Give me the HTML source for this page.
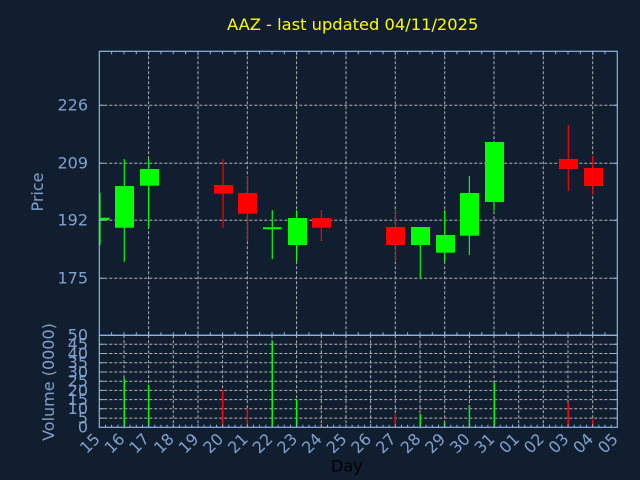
<!DOCTYPE html>
<html><head><meta charset="utf-8"><style>
html,body{margin:0;padding:0;background:#101e2f;}
svg{display:block;}
text{font-family:"DejaVu Sans","Liberation Sans",sans-serif;}
</style></head><body>
<svg width="640" height="480" viewBox="0 0 640 480" xmlns="http://www.w3.org/2000/svg">
<rect x="0" y="0" width="640" height="480" fill="#101e2f"/>
<text x="227" y="30" font-size="16.3" fill="#ffff00">AAZ - last updated 04/11/2025</text>

<!-- price grid -->
<g stroke="#b4b4b4" stroke-width="1" stroke-dasharray="3,2" fill="none">
<line x1="99.3" y1="105.3" x2="617.3" y2="105.3"/>
<line x1="99.3" y1="163.3" x2="617.3" y2="163.3"/>
<line x1="99.3" y1="220.3" x2="617.3" y2="220.3"/>
<line x1="99.3" y1="278.3" x2="617.3" y2="278.3"/>
<line x1="148.6" y1="51.3" x2="148.6" y2="335.3"/>
<line x1="198" y1="51.3" x2="198" y2="335.3"/>
<line x1="247.3" y1="51.3" x2="247.3" y2="335.3"/>
<line x1="296.6" y1="51.3" x2="296.6" y2="335.3"/>
<line x1="346" y1="51.3" x2="346" y2="335.3"/>
<line x1="395.3" y1="51.3" x2="395.3" y2="335.3"/>
<line x1="444.7" y1="51.3" x2="444.7" y2="335.3"/>
<line x1="494" y1="51.3" x2="494" y2="335.3"/>
<line x1="543.3" y1="51.3" x2="543.3" y2="335.3"/>
<line x1="592.7" y1="51.3" x2="592.7" y2="335.3"/>
</g>

<!-- volume grid -->
<g stroke="#b4b4b4" stroke-width="1" stroke-dasharray="3,2" fill="none">
<line x1="99.3" y1="344.3" x2="617.3" y2="344.3"/>
<line x1="99.3" y1="353.5" x2="617.3" y2="353.5"/>
<line x1="99.3" y1="362.7" x2="617.3" y2="362.7"/>
<line x1="99.3" y1="372" x2="617.3" y2="372"/>
<line x1="99.3" y1="381.2" x2="617.3" y2="381.2"/>
<line x1="99.3" y1="390.4" x2="617.3" y2="390.4"/>
<line x1="99.3" y1="399.6" x2="617.3" y2="399.6"/>
<line x1="99.3" y1="408.8" x2="617.3" y2="408.8"/>
<line x1="99.3" y1="418.1" x2="617.3" y2="418.1"/>
<line x1="124" y1="335.3" x2="124" y2="427.3"/>
<line x1="148.6" y1="335.3" x2="148.6" y2="427.3"/>
<line x1="173.3" y1="335.3" x2="173.3" y2="427.3"/>
<line x1="198" y1="335.3" x2="198" y2="427.3"/>
<line x1="222.6" y1="335.3" x2="222.6" y2="427.3"/>
<line x1="247.3" y1="335.3" x2="247.3" y2="427.3"/>
<line x1="272" y1="335.3" x2="272" y2="427.3"/>
<line x1="296.6" y1="335.3" x2="296.6" y2="427.3"/>
<line x1="321.3" y1="335.3" x2="321.3" y2="427.3"/>
<line x1="346" y1="335.3" x2="346" y2="427.3"/>
<line x1="370.6" y1="335.3" x2="370.6" y2="427.3"/>
<line x1="395.3" y1="335.3" x2="395.3" y2="427.3"/>
<line x1="420" y1="335.3" x2="420" y2="427.3"/>
<line x1="444.7" y1="335.3" x2="444.7" y2="427.3"/>
<line x1="469.4" y1="335.3" x2="469.4" y2="427.3"/>
<line x1="494" y1="335.3" x2="494" y2="427.3"/>
<line x1="518.7" y1="335.3" x2="518.7" y2="427.3"/>
<line x1="543.3" y1="335.3" x2="543.3" y2="427.3"/>
<line x1="568" y1="335.3" x2="568" y2="427.3"/>
<line x1="592.7" y1="335.3" x2="592.7" y2="427.3"/>
</g>

<!-- candles -->
<defs><clipPath id="pc"><rect x="99.3" y="51.3" width="518" height="284"/></clipPath></defs>
<g clip-path="url(#pc)">
<g stroke="#00ff00" stroke-width="1.2">
<line x1="100" y1="193" x2="100" y2="245"/>
<line x1="124.3" y1="159" x2="124.3" y2="261.7"/>
<line x1="148.6" y1="159" x2="148.6" y2="227.7"/>
<line x1="272.3" y1="210" x2="272.3" y2="259"/>
<line x1="296.6" y1="210.3" x2="296.6" y2="261.7"/>
<line x1="420.3" y1="245" x2="420.3" y2="278.7"/>
<line x1="444.7" y1="210" x2="444.7" y2="261.7"/>
<line x1="469.4" y1="176" x2="469.4" y2="255"/>
<line x1="494" y1="142" x2="494" y2="210.7"/>
</g>
<g stroke="#ff0000" stroke-width="1.2">
<line x1="223" y1="159" x2="223" y2="227.7"/>
<line x1="247.6" y1="176" x2="247.6" y2="241"/>
<line x1="321.3" y1="210" x2="321.3" y2="241"/>
<line x1="395.6" y1="210" x2="395.6" y2="261.7"/>
<line x1="568.3" y1="125" x2="568.3" y2="191"/>
<line x1="592.7" y1="156" x2="592.7" y2="194"/>
</g>
<g fill="#00ff00">
<rect x="90" y="217.7" width="19.5" height="2.3"/>
<rect x="115" y="186" width="19" height="41.7"/>
<rect x="140" y="169" width="19" height="16.7"/>
<rect x="263" y="227.3" width="18.7" height="2"/>
<rect x="288" y="218" width="19" height="27"/>
<rect x="411" y="227" width="19" height="18"/>
<rect x="436" y="235" width="19" height="17.7"/>
<rect x="460" y="193" width="19" height="42.7"/>
<rect x="485" y="142" width="19" height="60"/>
</g>
<g fill="#ff0000">
<rect x="214" y="185" width="19" height="8.7"/>
<rect x="238" y="193" width="19" height="20.7"/>
<rect x="312" y="218" width="19" height="9.7"/>
<rect x="386" y="227" width="19" height="18"/>
<rect x="559" y="159" width="19" height="10"/>
<rect x="584" y="168" width="19" height="18"/>
</g>
</g>

<!-- volume bars -->
<g stroke-width="1.5">
<line x1="124.3" y1="378.3" x2="124.3" y2="427.3" stroke="#00ff00"/>
<line x1="148.6" y1="385" x2="148.6" y2="427.3" stroke="#00ff00"/>
<line x1="222.6" y1="390" x2="222.6" y2="427.3" stroke="#ff0000"/>
<line x1="247.3" y1="408" x2="247.3" y2="427.3" stroke="#ff0000"/>
<line x1="272.3" y1="341" x2="272.3" y2="427.3" stroke="#00ff00"/>
<line x1="296.6" y1="399" x2="296.6" y2="427.3" stroke="#00ff00"/>
<line x1="321.3" y1="424.3" x2="321.3" y2="427.3" stroke="#ff0000"/>
<line x1="395.3" y1="414.3" x2="395.3" y2="427.3" stroke="#ff0000"/>
<line x1="420.3" y1="414" x2="420.3" y2="427.3" stroke="#00ff00"/>
<line x1="444.5" y1="422.3" x2="444.5" y2="427.3" stroke="#00ff00"/>
<line x1="469.4" y1="405" x2="469.4" y2="427.3" stroke="#00ff00"/>
<line x1="494.3" y1="382.3" x2="494.3" y2="427.3" stroke="#00ff00"/>
<line x1="568.3" y1="402.7" x2="568.3" y2="427.3" stroke="#ff0000"/>
<line x1="592.7" y1="419.3" x2="592.7" y2="427.3" stroke="#ff0000"/>
</g>

<!-- spines -->
<g stroke="#8fb3e2" stroke-width="1.2" fill="none">
<rect x="99.3" y="51.3" width="518" height="284"/>
<rect x="99.3" y="335.3" width="518" height="92"/>
</g>

<!-- ticks -->
<g stroke="#8fb3e2" stroke-width="1">
<!-- price top half-day ticks -->
<path d="M111.6 51.3v3M124 51.3v3M136.3 51.3v3M148.6 51.3v4M161 51.3v3M173.3 51.3v3M185.6 51.3v3M198 51.3v4M210.3 51.3v3M222.6 51.3v3M235 51.3v3M247.3 51.3v4M259.6 51.3v3M272 51.3v3M284.3 51.3v3M296.6 51.3v4M309 51.3v3M321.3 51.3v3M333.6 51.3v3M346 51.3v4M358.3 51.3v3M370.6 51.3v3M383 51.3v3M395.3 51.3v4M407.6 51.3v3M420 51.3v3M432.3 51.3v3M444.7 51.3v4M457 51.3v3M469.4 51.3v3M481.7 51.3v3M494 51.3v4M506.3 51.3v3M518.7 51.3v3M531 51.3v3M543.3 51.3v4M555.7 51.3v3M568 51.3v3M580.3 51.3v3M592.7 51.3v4M605 51.3v3"/>
<!-- price bottom ticks -->
<path d="M111.6 335.3v-3M124 335.3v-3M136.3 335.3v-3M148.6 335.3v-4M161 335.3v-3M173.3 335.3v-3M185.6 335.3v-3M198 335.3v-4M210.3 335.3v-3M222.6 335.3v-3M235 335.3v-3M247.3 335.3v-4M259.6 335.3v-3M272 335.3v-3M284.3 335.3v-3M296.6 335.3v-4M309 335.3v-3M321.3 335.3v-3M333.6 335.3v-3M346 335.3v-4M358.3 335.3v-3M370.6 335.3v-3M383 335.3v-3M395.3 335.3v-4M407.6 335.3v-3M420 335.3v-3M432.3 335.3v-3M444.7 335.3v-4M457 335.3v-3M469.4 335.3v-3M481.7 335.3v-3M494 335.3v-4M506.3 335.3v-3M518.7 335.3v-3M531 335.3v-3M543.3 335.3v-4M555.7 335.3v-3M568 335.3v-3M580.3 335.3v-3M592.7 335.3v-4M605 335.3v-3"/>
<!-- price side ticks -->
<path d="M99.3 105.3h5M99.3 163.3h5M99.3 220.3h5M99.3 278.3h5M617.3 105.3h-5M617.3 163.3h-5M617.3 220.3h-5M617.3 278.3h-5"/>
<!-- volume side ticks -->
<path d="M99.3 344.3h5M99.3 353.5h5M99.3 362.7h5M99.3 372h5M99.3 381.2h5M99.3 390.4h5M99.3 399.6h5M99.3 408.8h5M99.3 418.1h5M617.3 344.3h-5M617.3 353.5h-5M617.3 362.7h-5M617.3 372h-5M617.3 381.2h-5M617.3 390.4h-5M617.3 399.6h-5M617.3 408.8h-5M617.3 418.1h-5"/>
<!-- volume bottom quarter-day ticks -->
<path d="M105.5 427.3v-2.5M111.6 427.3v-2.5M117.8 427.3v-2.5M124 427.3v-3M130.1 427.3v-2.5M136.3 427.3v-2.5M142.5 427.3v-2.5M148.6 427.3v-3M154.8 427.3v-2.5M161 427.3v-2.5M167.1 427.3v-2.5M173.3 427.3v-3M179.5 427.3v-2.5M185.6 427.3v-2.5M191.8 427.3v-2.5M198 427.3v-3M204.1 427.3v-2.5M210.3 427.3v-2.5M216.5 427.3v-2.5M222.6 427.3v-3M228.8 427.3v-2.5M235 427.3v-2.5M241.1 427.3v-2.5M247.3 427.3v-3M253.5 427.3v-2.5M259.6 427.3v-2.5M265.8 427.3v-2.5M272 427.3v-3M278.1 427.3v-2.5M284.3 427.3v-2.5M290.5 427.3v-2.5M296.6 427.3v-3M302.8 427.3v-2.5M309 427.3v-2.5M315.1 427.3v-2.5M321.3 427.3v-3M327.5 427.3v-2.5M333.6 427.3v-2.5M339.8 427.3v-2.5M346 427.3v-3M352.1 427.3v-2.5M358.3 427.3v-2.5M364.5 427.3v-2.5M370.6 427.3v-3M376.8 427.3v-2.5M383 427.3v-2.5M389.1 427.3v-2.5M395.3 427.3v-3M401.5 427.3v-2.5M407.6 427.3v-2.5M413.8 427.3v-2.5M420 427.3v-3M426.1 427.3v-2.5M432.3 427.3v-2.5M438.5 427.3v-2.5M444.7 427.3v-3M450.8 427.3v-2.5M457 427.3v-2.5M463.2 427.3v-2.5M469.4 427.3v-3M475.5 427.3v-2.5M481.7 427.3v-2.5M487.9 427.3v-2.5M494 427.3v-3M500.2 427.3v-2.5M506.3 427.3v-2.5M512.5 427.3v-2.5M518.7 427.3v-3M524.8 427.3v-2.5M531 427.3v-2.5M537.2 427.3v-2.5M543.3 427.3v-3M549.5 427.3v-2.5M555.7 427.3v-2.5M561.8 427.3v-2.5M568 427.3v-3M574.2 427.3v-2.5M580.3 427.3v-2.5M586.5 427.3v-2.5M592.7 427.3v-3M598.8 427.3v-2.5M605 427.3v-2.5M611.2 427.3v-2.5"/>
</g>

<!-- y labels -->
<g fill="#7fa2cf" font-size="16" text-anchor="end">
<text x="88" y="110.7">226</text>
<text x="88" y="168.7">209</text>
<text x="88" y="225.7">192</text>
<text x="88" y="283.7">175</text>
<text x="88" y="340.7">50</text>
<text x="88" y="349.7">45</text>
<text x="88" y="358.9">40</text>
<text x="88" y="368.1">35</text>
<text x="88" y="377.4">30</text>
<text x="88" y="386.6">25</text>
<text x="88" y="395.8">20</text>
<text x="88" y="405">15</text>
<text x="88" y="414.2">10</text>
<text x="88" y="423.5">5</text>
<text x="88" y="432.7">0</text>
</g>
<g fill="#7fa2cf" font-size="16" text-anchor="middle">
<text transform="translate(43,192) rotate(-90)">Price</text>
<text transform="translate(54,382) rotate(-90)">Volume (0000)</text>
</g>

<!-- x labels -->
<g fill="#7fa2cf" font-size="16" text-anchor="end">
<text transform="translate(101,440) rotate(-45)">15</text>
<text transform="translate(125.7,440) rotate(-45)">16</text>
<text transform="translate(150.3,440) rotate(-45)">17</text>
<text transform="translate(175,440) rotate(-45)">18</text>
<text transform="translate(199.7,440) rotate(-45)">19</text>
<text transform="translate(224.3,440) rotate(-45)">20</text>
<text transform="translate(249,440) rotate(-45)">21</text>
<text transform="translate(273.7,440) rotate(-45)">22</text>
<text transform="translate(298.3,440) rotate(-45)">23</text>
<text transform="translate(323,440) rotate(-45)">24</text>
<text transform="translate(347.7,440) rotate(-45)">25</text>
<text transform="translate(372.3,440) rotate(-45)">26</text>
<text transform="translate(397,440) rotate(-45)">27</text>
<text transform="translate(421.7,440) rotate(-45)">28</text>
<text transform="translate(446.3,440) rotate(-45)">29</text>
<text transform="translate(471,440) rotate(-45)">30</text>
<text transform="translate(495.7,440) rotate(-45)">31</text>
<text transform="translate(520.3,440) rotate(-45)">01</text>
<text transform="translate(545,440) rotate(-45)">02</text>
<text transform="translate(569.7,440) rotate(-45)">03</text>
<text transform="translate(594.3,440) rotate(-45)">04</text>
<text transform="translate(619,440) rotate(-45)">05</text>
</g>
<text x="331" y="471.7" font-size="16" fill="#000000">Day</text>
</svg>
</body></html>
